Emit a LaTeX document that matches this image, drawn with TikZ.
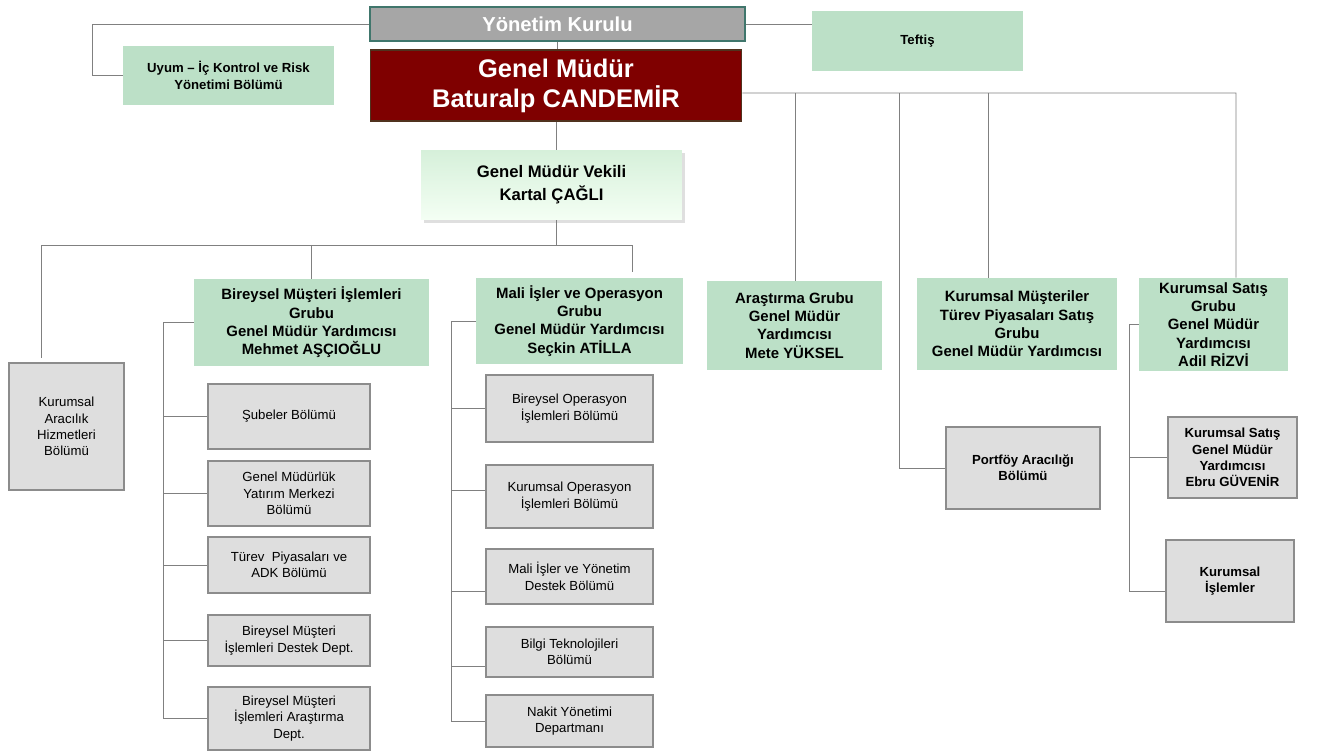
\documentclass[tikz,border=0pt]{standalone}
\usepackage{fontspec}
\setmainfont{Liberation Sans}
\usetikzlibrary{shadows}

\definecolor{grpgreen}{RGB}{188,224,199}
\definecolor{deptgray}{RGB}{222,222,222}
\definecolor{deptline}{RGB}{140,140,140}
\definecolor{linkgray}{RGB}{128,128,128}
\definecolor{gmred}{RGB}{127,0,0}
\definecolor{gmline}{RGB}{80,50,30}
\definecolor{ykgray}{RGB}{166,166,166}
\definecolor{ykline}{RGB}{64,118,108}
\definecolor{vtop}{RGB}{214,240,218}
\definecolor{vbot}{RGB}{244,255,244}

\tikzset{
  link/.style={draw=linkgray, line width=0.55pt},
  grp/.style={fill=grpgreen, align=center, inner sep=0pt, font=\bfseries\fontsize{8.5}{10.4}\selectfont},
  side/.style={fill=grpgreen, align=center, inner sep=0pt, font=\bfseries\fontsize{7.5}{9.3}\selectfont},
  dept/.style={fill=deptgray, draw=deptline, line width=1.4pt, align=center, inner sep=0pt, font=\fontsize{7.5}{9.3}\selectfont},
  deptb/.style={dept, font=\bfseries\fontsize{7.5}{9.3}\selectfont}
}

\begin{document}
\begin{tikzpicture}[x=0.02cm, y=-0.02cm]
\useasboundingbox (0,0) rectangle (1320,753);
\node (YK) at (557.5,24) [fill=ykgray, draw=ykline, line width=0.9pt, text=white, inner sep=0pt, minimum width=7.5cm, minimum height=0.68cm, font=\bfseries\fontsize{11.5}{13}\selectfont] {Yönetim Kurulu};
\node (GM) at (556,85.5) [fill=gmred, draw=gmline, line width=0.6pt, text=white, align=center, inner sep=0pt, minimum width=7.44cm, minimum height=1.42cm, font=\bfseries\fontsize{14.5}{17}\selectfont] {Genel Müdür\\Baturalp CANDEMİR};
\node (T) at (917.5,41) [side, minimum width=4.22cm, minimum height=1.2cm] {Teftiş};
\node (U) at (228.5,75.5) [side, minimum width=4.22cm, minimum height=1.18cm] {Uyum – İç Kontrol ve Risk\\Yönetimi Bölümü};
\node (V) at (551.5,185) [top color=vtop, bottom color=vbot, drop shadow={opacity=0.25, shadow xshift=1.5pt, shadow yshift=-1.5pt}, align=center, inner sep=0pt, minimum width=5.22cm, minimum height=1.4cm, font=\bfseries\fontsize{9.5}{13}\selectfont] {Genel Müdür Vekili\\Kartal ÇAĞLI};

\node (KA) at (66.5,426.5) [dept, minimum width=2.3cm, minimum height=2.54cm] {Kurumsal\\Aracılık\\Hizmetleri\\Bölümü};
\node (BM) at (311.5,322.5) [grp, minimum width=4.7cm, minimum height=1.74cm] {Bireysel Müşteri İşlemleri\\Grubu\\Genel Müdür Yardımcısı\\Mehmet AŞÇIOĞLU};
\node (MI) at (579.5,321) [grp, minimum width=4.14cm, minimum height=1.72cm] {Mali İşler ve Operasyon\\Grubu\\Genel Müdür Yardımcısı\\Seçkin ATİLLA};
\node (AG) at (794.5,325.5) [grp, minimum width=3.5cm, minimum height=1.78cm] {Araştırma Grubu\\Genel Müdür\\Yardımcısı\\Mete YÜKSEL};
\node (KM) at (1017,324) [grp, minimum width=4cm, minimum height=1.84cm] {Kurumsal Müşteriler\\Türev Piyasaları Satış\\Grubu\\Genel Müdür Yardımcısı};
\node (KS) at (1213.5,324.5) [grp, minimum width=2.98cm, minimum height=1.86cm] {Kurumsal Satış\\Grubu\\Genel Müdür\\Yardımcısı\\Adil RİZVİ};

\node (B1) at (289,416.5) [dept, minimum width=3.24cm, minimum height=1.3cm] {Şubeler Bölümü};
\node (B2) at (289,493.5) [dept, minimum width=3.24cm, minimum height=1.3cm] {Genel Müdürlük\\Yatırım Merkezi\\Bölümü};
\node (B3) at (289,565) [dept, minimum width=3.24cm, minimum height=1.12cm] {Türev\ \ Piyasaları ve\\ADK Bölümü};
\node (B4) at (289,640.5) [dept, minimum width=3.24cm, minimum height=1.02cm] {Bireysel Müşteri\\İşlemleri Destek Dept.};
\node (B5) at (289,718.5) [dept, minimum width=3.24cm, minimum height=1.26cm] {Bireysel Müşteri\\İşlemleri Araştırma\\Dept.};

\node (M1) at (569.5,408.5) [dept, minimum width=3.34cm, minimum height=1.34cm] {Bireysel Operasyon\\İşlemleri Bölümü};
\node (M2) at (569.5,496.5) [dept, minimum width=3.34cm, minimum height=1.26cm] {Kurumsal Operasyon\\İşlemleri Bölümü};
\node (M3) at (569.5,576.5) [dept, minimum width=3.34cm, minimum height=1.1cm] {Mali İşler ve Yönetim\\Destek Bölümü};
\node (M4) at (569.5,652) [dept, minimum width=3.34cm, minimum height=1cm] {Bilgi Teknolojileri\\Bölümü};
\node (M5) at (569.5,721) [dept, minimum width=3.34cm, minimum height=1.04cm] {Nakit Yönetimi\\Departmanı};

\node (PA) at (1023,468) [deptb, minimum width=3.08cm, minimum height=1.64cm] {Portföy Aracılığı\\Bölümü};
\node (EG) at (1232.5,457.5) [deptb, minimum width=2.58cm, minimum height=1.62cm] {Kurumsal Satış\\Genel Müdür\\Yardımcısı\\Ebru GÜVENİR};
\node (KI) at (1230,581) [deptb, minimum width=2.56cm, minimum height=1.64cm] {Kurumsal\\İşlemler};

\coordinate (g1) at (795,93);
\coordinate (g2) at (899,93);
\coordinate (g3) at (988,93);
\coordinate (g4) at (1236,93);
\coordinate (v1) at (41,245);
\coordinate (v2) at (632,245);

\draw [link] (YK.west) -- ++(-277,0) |- (U.west);
\draw [link] (YK.east) -- (T.west |- YK.east);
\draw [link] (YK.south) -- (YK.south |- GM.north);
\draw [link] (GM.east) ++(0,7.5) -- (g4) -- (g4 |- KS.north);
\draw [link] (g1) -- (g1 |- AG.north);
\draw [link] (g2) |- (PA.west);
\draw [link] (g3) -- (g3 |- KM.north);
\draw [link] (GM.south) -- (GM.south |- V.north);
\draw [link] (GM.south |- V.south) -- (GM.south |- v1);
\draw [link] (v1) ++(0,113) -- (v1) -- (v2) -- ++(0,27);
\draw [link] (BM.north |- v1) -- (BM.north);

\draw [link] (BM.west) -- ++(-30,0) |- (B5.west);
\draw [link] (B1.west) -- ++(-44,0);
\draw [link] (B2.west) -- ++(-44,0);
\draw [link] (B3.west) -- ++(-44,0);
\draw [link] (B4.west) -- ++(-44,0);

\draw [link] (MI.west) -- ++(-24,0) |- (M5.west);
\draw [link] (M1.west) -- ++(-34,0);
\draw [link] (M2.west |- 0,490) -- ++(-34,0);
\draw [link] (M3.west |- 0,591) -- ++(-34,0);
\draw [link] (M4.west |- 0,666) -- ++(-34,0);

\draw [link] (KS.west) -- ++(-9,0) |- (KI.west |- 0,591);
\draw [link] (EG.west) -- ++(-38,0);
\end{tikzpicture}
\end{document}
